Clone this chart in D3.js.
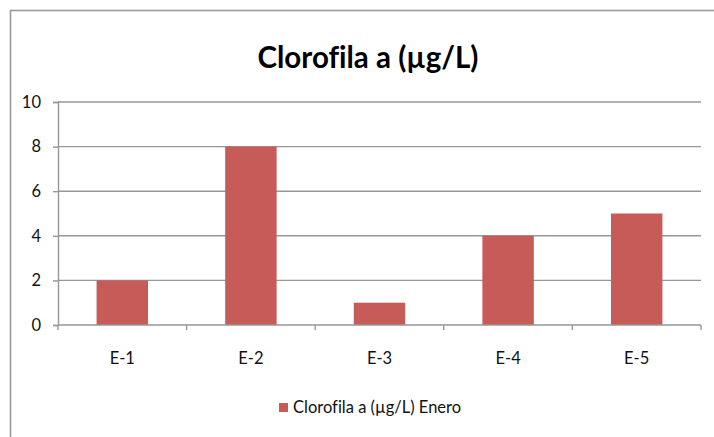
<!DOCTYPE html>
<html>
<head>
<meta charset="utf-8">
<script src="https://cdn.jsdelivr.net/npm/d3@7"></script>
<style>
  html, body { margin: 0; padding: 0; background: #fff; }
  svg { display: block; font-family: Lato, "Open Sans", sans-serif; font-variant-ligatures: none; }
</style>
</head>
<body>
<svg id="chart" width="714" height="437"></svg>
<script>
// Chlorophyll-a concentration per station, January
const stations = ["E-1", "E-2", "E-3", "E-4", "E-5"];
const values = [2, 8, 1, 4, 5];
const yTicks = [0, 2, 4, 6, 8, 10];
const chartTitle = "Clorofila a (µg/L)";
const seriesName = "Clorofila a (µg/L) Enero";

const svg = d3.select("#chart");
const W = 714, H = 437;
const plot = { left: 58, right: 701, top: 102, bottom: 325 };
const barColor = "#C65B58";
const gridColor = "#979797";
const labelSize = 16.5;

// outer chart frame (left and top edges visible)
svg.append("rect")
  .attr("x", 10.5).attr("y", 10.5)
  .attr("width", W + 20).attr("height", H + 20)
  .attr("fill", "none").attr("stroke", "#9a9a9a").attr("stroke-width", 1.6);

const x = d3.scaleBand()
  .domain(stations)
  .range([plot.left, plot.right])
  .paddingInner(0.6)
  .paddingOuter(0.3);

const y = d3.scaleLinear()
  .domain([0, 10])
  .range([plot.bottom, plot.top]);

// horizontal gridlines
svg.append("g")
  .selectAll("line")
  .data(yTicks.filter(d => d > 0))
  .join("line")
  .attr("x1", plot.left).attr("x2", plot.right)
  .attr("y1", d => y(d)).attr("y2", d => y(d))
  .attr("stroke", gridColor).attr("stroke-width", 1.4);

// y axis
const yAxis = svg.append("g")
  .attr("transform", `translate(${plot.left},0)`)
  .call(d3.axisLeft(y).tickValues(yTicks).tickSize(5).tickPadding(12).tickFormat(d3.format("d")));
yAxis.select(".domain").attr("stroke", gridColor).attr("stroke-width", 1.4);
yAxis.selectAll(".tick line").attr("stroke", gridColor).attr("stroke-width", 1.4);
yAxis.selectAll(".tick text")
  .attr("font-size", labelSize).attr("fill", "#111")
  .style("font-family", "Lato, 'Open Sans', sans-serif");

// bars
svg.append("g")
  .selectAll("rect")
  .data(stations.map((s, i) => ({ s, v: values[i] })))
  .join("rect")
  .attr("x", d => x(d.s))
  .attr("y", d => y(d.v))
  .attr("width", x.bandwidth())
  .attr("height", d => y(0) - y(d.v))
  .attr("fill", barColor);

// x axis with ticks at category boundaries
const step = x.step();
const boundaries = d3.range(stations.length + 1).map(i => plot.left + i * step);
const xAxisG = svg.append("g");
xAxisG.append("line")
  .attr("x1", plot.left).attr("x2", plot.right)
  .attr("y1", plot.bottom).attr("y2", plot.bottom)
  .attr("stroke", gridColor).attr("stroke-width", 1.4);
xAxisG.selectAll("line.tick")
  .data(boundaries)
  .join("line").attr("class", "tick")
  .attr("x1", d => d).attr("x2", d => d)
  .attr("y1", plot.bottom).attr("y2", plot.bottom + 5)
  .attr("stroke", gridColor).attr("stroke-width", 1.4);
xAxisG.selectAll("text")
  .data(stations)
  .join("text")
  .attr("x", d => x(d) + x.bandwidth() / 2)
  .attr("y", 364)
  .attr("text-anchor", "middle")
  .attr("font-size", labelSize).attr("fill", "#111")
  .text(d => d);

// title
svg.append("text")
  .attr("x", 368).attr("y", 68)
  .attr("text-anchor", "middle")
  .attr("font-size", 29.5).attr("font-weight", "bold").attr("fill", "#000")
  .text(chartTitle);

// legend
const legend = svg.append("g");
legend.append("rect")
  .attr("x", 279).attr("y", 403).attr("width", 9).attr("height", 9)
  .attr("fill", barColor);
legend.append("text")
  .attr("x", 293).attr("y", 413)
  .attr("font-size", labelSize).attr("fill", "#111")
  .text(seriesName);
</script>
</body>
</html>
